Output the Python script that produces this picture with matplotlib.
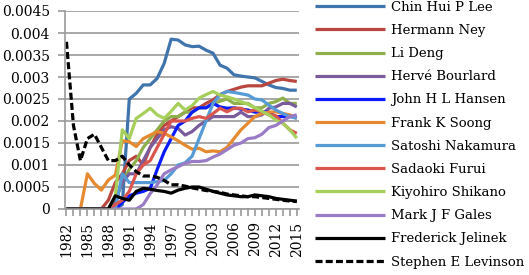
import matplotlib
matplotlib.use("Agg")
import matplotlib.pyplot as plt
import numpy as np

years = list(range(1982, 2016))

chin_hui_p_lee = [0, 0, 0, 0, 0, 0, 0, 0, 0.0001, 0.0025, 0.00263, 0.00282, 0.00282, 0.00297, 0.00331,
                  0.00386, 0.00384, 0.00373, 0.00369, 0.0037, 0.00361, 0.00354, 0.00327, 0.0032, 0.00305,
                  0.00302, 0.003, 0.00298, 0.0029, 0.00282, 0.00276, 0.00274, 0.0027, 0.0027]
hermann_ney = [0, 0, 0, 0, 0, 0, 0.0002, 0.0006, 0.0008, 0.0011, 0.0012, 0.001, 0.0014, 0.0017, 0.0019,
               0.002, 0.0021, 0.0022, 0.0023, 0.0023, 0.0024, 0.00248, 0.0026, 0.00267, 0.00272,
               0.00277, 0.0028, 0.0028, 0.0028, 0.00286, 0.00292, 0.00295, 0.00292, 0.0029]
li_deng = [0, 0, 0, 0, 0, 0, 0, 0.0002, 0.0006, 0.0009, 0.0011, 0.0014, 0.0016, 0.0018, 0.002,
           0.0021, 0.0021, 0.0022, 0.0022, 0.0023, 0.0023, 0.0024, 0.00245, 0.0025, 0.0024,
           0.0024, 0.0024, 0.0023, 0.0023, 0.0024, 0.00244, 0.00252, 0.0024, 0.0024]
herve_bourlard = [0, 0, 0, 0, 0, 0, 0, 0.0002, 0.0006, 0.0008, 0.0008, 0.0011, 0.0014, 0.0016, 0.0018,
                  0.00187, 0.00183, 0.00168, 0.00176, 0.0019, 0.002, 0.0021, 0.0021, 0.0021, 0.0021,
                  0.0022, 0.0021, 0.0021, 0.00214, 0.00229, 0.00232, 0.0024, 0.0024, 0.00232]
john_h_l_hansen = [0, 0, 0, 0, 0, 0, 0, 0, 0.00015, 0.0003, 0.00036, 0.0004, 0.00047, 0.0009, 0.0013,
                   0.0016, 0.0019, 0.002, 0.0022, 0.0023, 0.0023, 0.0024, 0.00232, 0.00229, 0.0023,
                   0.00227, 0.00225, 0.0022, 0.00221, 0.0022, 0.0021, 0.0021, 0.0021, 0.0021]
frank_k_soong = [0, 0, 0, 0.0008, 0.00058, 0.00043, 0.00066, 0.00077, 0.00155, 0.00153, 0.00142, 0.0016,
                 0.00168, 0.00176, 0.00172, 0.00164, 0.00155, 0.00145, 0.00136, 0.00138, 0.0013, 0.00132,
                 0.0013, 0.0014, 0.0016, 0.0018, 0.00195, 0.0021, 0.00217, 0.0022, 0.00221, 0.00217,
                 0.00214, 0.00206]
satoshi_nakamura = [0, 0, 0, 0, 0, 0, 0, 0, 0.0008, 0.0006, 0.0006, 0.0006, 0.0006, 0.00062, 0.00065,
                    0.0008, 0.001, 0.00105, 0.0012, 0.0016, 0.002, 0.0024, 0.0026, 0.00267, 0.00265,
                    0.00262, 0.00259, 0.0025, 0.00248, 0.00236, 0.00225, 0.00217, 0.0021, 0.00206]
sadaoki_furui = [0, 0, 0, 0, 0, 0, 0, 0.0001, 0.0002, 0.0004, 0.0008, 0.001, 0.0011, 0.0014, 0.0017,
                 0.002, 0.002, 0.002, 0.00206, 0.0021, 0.00206, 0.00217, 0.00229, 0.00221, 0.00229,
                 0.00229, 0.00221, 0.00225, 0.00221, 0.00214, 0.00212, 0.00195, 0.0018, 0.00172]
kiyohiro_shikano = [0, 0, 0, 0, 0, 0, 0, 0.0003, 0.0018, 0.0016, 0.00206, 0.00217, 0.00229, 0.00214,
                    0.00206, 0.00222, 0.0024, 0.00225, 0.00235, 0.00252, 0.0026, 0.00267, 0.00259,
                    0.00255, 0.0025, 0.00244, 0.00238, 0.0023, 0.00222, 0.00214, 0.00202, 0.00195,
                    0.0018, 0.00161]
mark_j_f_gales = [0, 0, 0, 0, 0, 0, 0, 0, 0, 0, 0, 0.0001, 0.00035, 0.00055, 0.0008, 0.00089, 0.00096,
                  0.00104, 0.00108, 0.00108, 0.0011, 0.00118, 0.00125, 0.00135, 0.00145, 0.0015, 0.0016,
                  0.00162, 0.0017, 0.00185, 0.0019, 0.002, 0.0021, 0.00214]
frederick_jelinek = [0, 0, 0, 0, 0, 0, 0, 0.0003, 0.00024, 0.0002, 0.0004, 0.00047, 0.00045, 0.00042,
                     0.0004, 0.00036, 0.00043, 0.00047, 0.0005, 0.0005, 0.00045, 0.0004, 0.00036,
                     0.00032, 0.0003, 0.00028, 0.00028, 0.00032, 0.0003, 0.00028, 0.00024, 0.00022,
                     0.0002, 0.00018]
stephen_e_levinson = [0.0038, 0.0019, 0.0011, 0.0016, 0.0017, 0.0014, 0.0011, 0.0011, 0.0012, 0.001,
                      0.00085, 0.00075, 0.00075, 0.00072, 0.00065, 0.00055, 0.00055, 0.00052, 0.00048,
                      0.00045, 0.00042, 0.0004, 0.00038, 0.00034, 0.00032, 0.0003, 0.00028, 0.00028,
                      0.00026, 0.00024, 0.00022, 0.0002, 0.00018, 0.00017]

series = [
    ("Chin Hui P Lee", chin_hui_p_lee, "#3f74ad", "-"),
    ("Hermann Ney", hermann_ney, "#b9463f", "-"),
    ("Li Deng", li_deng, "#8fae4c", "-"),
    ("Hervé Bourlard", herve_bourlard, "#7a5c9c", "-"),
    ("John H L Hansen", john_h_l_hansen, "#0a1cff", "-"),
    ("Frank K Soong", frank_k_soong, "#e58a30", "-"),
    ("Satoshi Nakamura", satoshi_nakamura, "#569ad6", "-"),
    ("Sadaoki Furui", sadaoki_furui, "#db554f", "-"),
    ("Kiyohiro Shikano", kiyohiro_shikano, "#a7cf5c", "-"),
    ("Mark J F Gales", mark_j_f_gales, "#9a7bc6", "-"),
    ("Frederick Jelinek", frederick_jelinek, "#000000", "-"),
    ("Stephen E Levinson", stephen_e_levinson, "#000000", (0, (2.2, 1.0))),
]

plt.rcParams['font.family'] = ['DejaVu Serif']
fig = plt.figure(figsize=(5.29, 2.75), dpi=100)
ax = fig.add_axes([0.123, 0.24, 0.442, 0.72])

for name, vals, col, ls in series:
    ax.plot(years, vals, color=col, linestyle=ls, linewidth=2.3, label=name,
            solid_capstyle='butt', dash_capstyle='butt')

ax.set_xlim(1981.8, 2015.3)
ax.set_ylim(0, 0.0045)
yt = np.arange(0, 0.00451, 0.0005)
ax.set_yticks(yt)
ax.set_yticklabels(["0", "0.0005", "0.001", "0.0015", "0.002", "0.0025", "0.003", "0.0035", "0.004", "0.0045"],
                   fontsize=10)
ax.set_xticks(years[::3])
ax.set_xticklabels([str(y) for y in years[::3]], rotation=90, fontsize=10)
ax.set_xticks(years, minor=True)
ax.grid(axis='y', color='#9a9a9a', linewidth=1.2)
ax.set_axisbelow(True)
for s in ['top', 'right']:
    ax.spines[s].set_visible(False)
for s in ['left', 'bottom']:
    ax.spines[s].set_color('#9a9a9a')
    ax.spines[s].set_linewidth(1.2)
ax.tick_params(axis='both', which='both', direction='out', color='#9a9a9a', width=1.2)
ax.tick_params(axis='y', length=5, pad=6)
ax.tick_params(axis='x', which='major', length=5, pad=4)
ax.tick_params(axis='x', which='minor', length=5)

leg = ax.legend(loc='upper left', bbox_to_anchor=(0.595, 0.997), bbox_transform=fig.transFigure,
                frameon=False, fontsize=9.5, handlelength=5.3, handletextpad=0.5,
                labelspacing=0.77, borderpad=0, borderaxespad=0)
fig.savefig("out.png", dpi=100)
